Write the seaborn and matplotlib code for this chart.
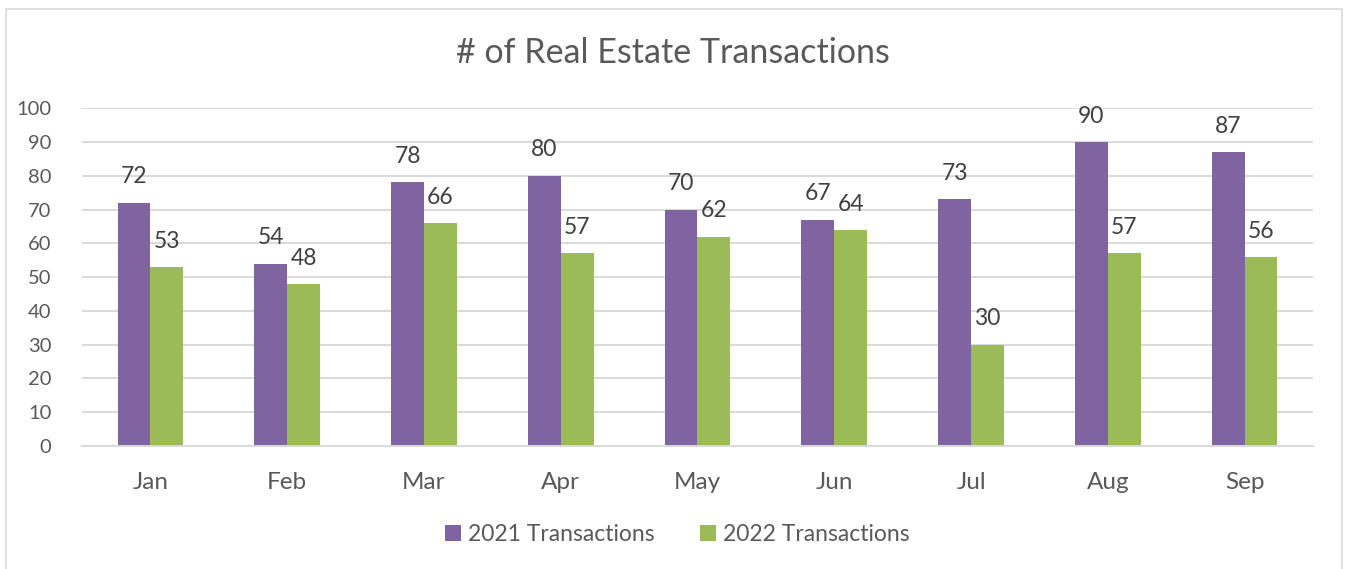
import pandas as pd
import matplotlib.pyplot as plt
import seaborn as sns
from matplotlib.patches import Rectangle

months = ["Jan", "Feb", "Mar", "Apr", "May", "Jun", "Jul", "Aug", "Sep"]
tx_2021 = [72, 54, 78, 80, 70, 67, 73, 90, 87]
tx_2022 = [53, 48, 66, 57, 62, 64, 30, 57, 56]
series = ["2021 Transactions", "2022 Transactions"]
colors = ["#8064A2", "#9BBB59"]
text_color = "#595959"

df = pd.DataFrame({
    "month": months * 2,
    "value": tx_2021 + tx_2022,
    "series": [series[0]] * len(months) + [series[1]] * len(months),
})

sns.set_style("white")
plt.rcParams["font.family"] = ["Lato", "DejaVu Sans"]

fig = plt.figure(figsize=(13.55, 5.69), dpi=100)
ax = fig.add_axes([0.0605, 0.216, 0.9085, 0.594])

sns.barplot(data=df, x="month", y="value", hue="series", palette=colors,
            width=0.48, saturation=1, linewidth=0, ax=ax, legend=True)

# outer chart border
fig.patches.append(Rectangle((6 / 1355, -0.05), 1336 / 1355, 1.05 - 9 / 569,
                             transform=fig.transFigure, fill=False,
                             edgecolor="#D9D9D9", linewidth=1.2))

ax.set_ylim(0, 100)
ax.set_xlim(-0.5, 8.5)
ax.set_yticks(range(0, 101, 10))
ax.yaxis.grid(True, color="#D9D9D9", linewidth=1.4)
ax.set_axisbelow(True)
for s in ["top", "right", "left"]:
    ax.spines[s].set_visible(False)
ax.spines["bottom"].set_color("#D9D9D9")
ax.spines["bottom"].set_linewidth(1.4)
ax.tick_params(axis="both", length=0, colors=text_color)
ax.tick_params(axis="x", pad=19, labelsize=17.5)
ax.tick_params(axis="y", pad=22, labelsize=14.5)
ax.set_xlabel("")
ax.set_ylabel("")

for cont in ax.containers:
    ax.bar_label(cont, padding=11, fontsize=16.5, color="#404040")

handles, labels = ax.get_legend_handles_labels()
ax.get_legend().remove()
fig.legend(handles, labels, loc="center", bbox_to_anchor=(0.5, 0.06), ncol=2,
           frameon=False, fontsize=16.5, labelcolor=text_color,
           handlelength=0.7, handleheight=0.7, handletextpad=0.3,
           columnspacing=2.0)

fig.text(0.497, 0.907, "# of Real Estate Transactions", ha="center",
         va="center", fontsize=24.5, color=text_color)

plt.savefig("out.png", dpi=100)
plt.close()
